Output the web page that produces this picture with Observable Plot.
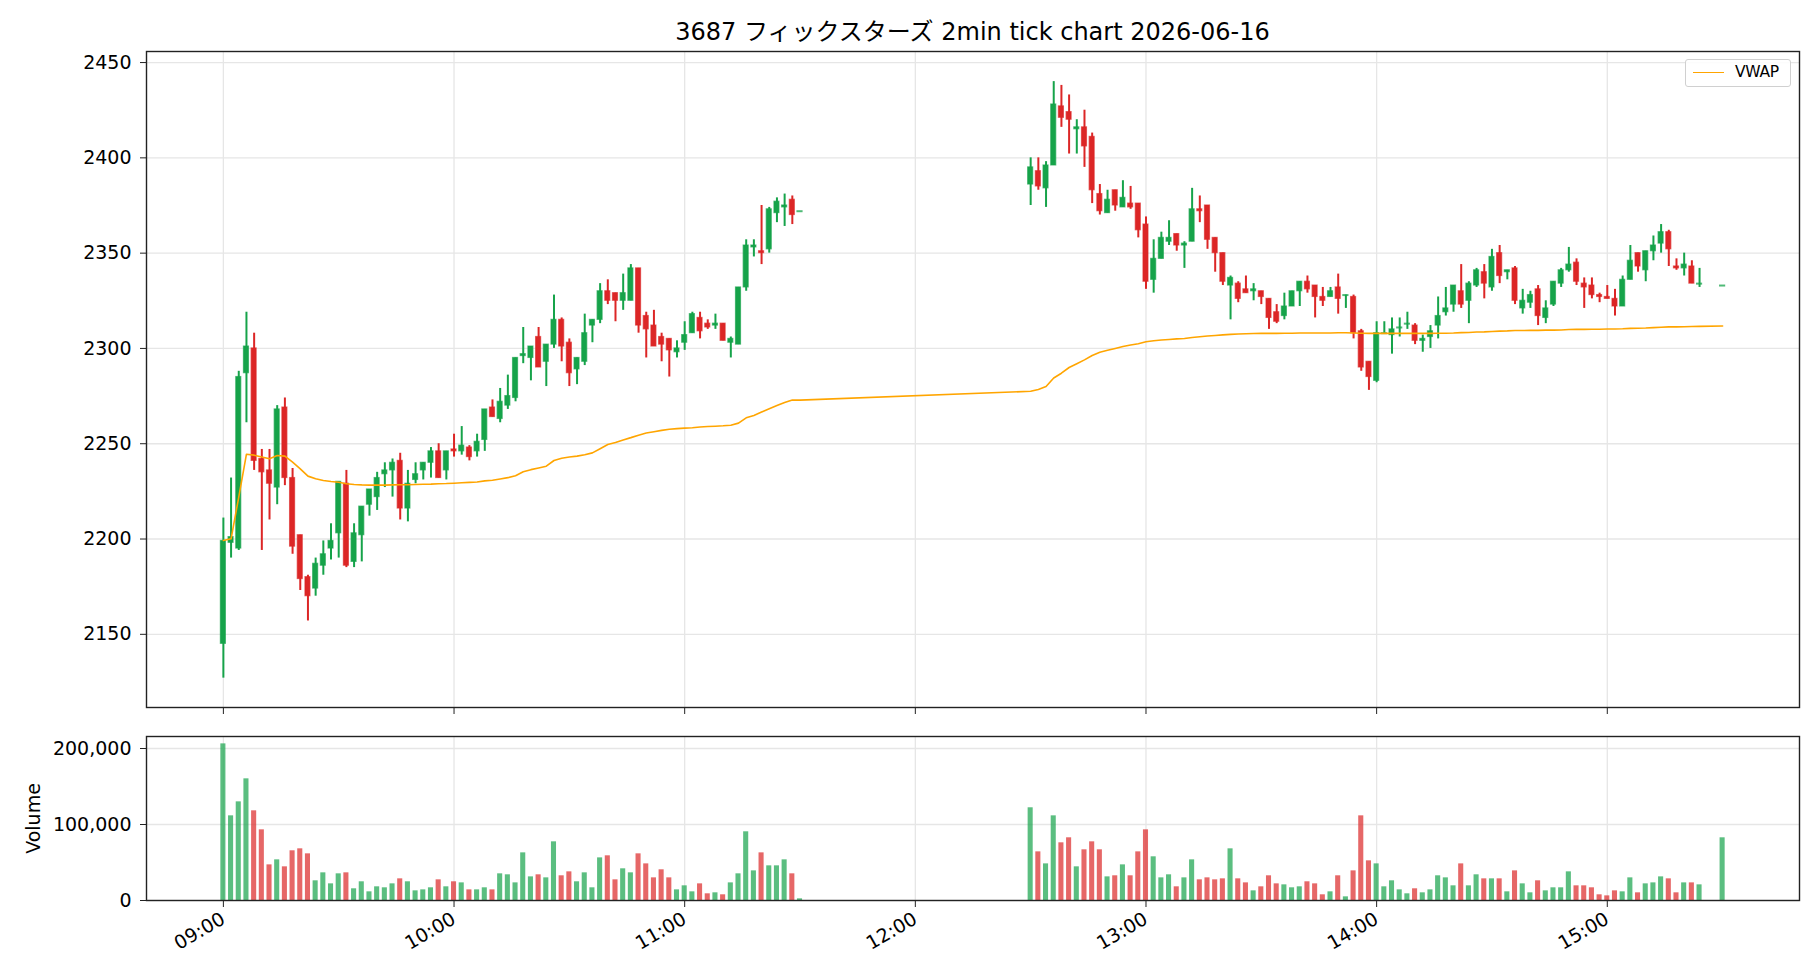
<!DOCTYPE html>
<html>
<head>
<meta charset="utf-8">
<script src="https://cdn.jsdelivr.net/npm/d3@7"></script>
<script src="https://cdn.jsdelivr.net/npm/@observablehq/plot@0.6"></script>
<style>
  html, body { margin: 0; padding: 0; background: #fff; }
  #wrap { position: relative; width: 1820px; height: 980px; background: #fff; overflow: hidden; font-family: "DejaVu Sans", "Noto Sans CJK JP", sans-serif; }
  #title { position: absolute; left: 146px; width: 1653px; top: 12px; text-align: center; font-size: 24px; color: #000; }
  #legend { position: absolute; left: 1685px; top: 59px; width: 104px; height: 26px; border: 1px solid #d0d0d0; border-radius: 3px; background: rgba(255,255,255,0.85); }
  #legend .sw { position: absolute; left: 7px; top: 12px; width: 31px; height: 0; border-top: 1.6px solid orange; }
  #legend .lb { position: absolute; left: 49px; top: 2px; font-size: 15.5px; line-height: 21px; color: #000; letter-spacing: -0.3px; }
  svg.panel { position: absolute; left: 0; }
</style>
</head>
<body>
<div id="wrap">
  <div id="title">3687 フィックスターズ 2min tick chart 2026-06-16</div>
</div>
<script>
// ---- data (2-minute bars) ----
const times = [
  "09:00","09:02","09:04","09:06","09:08","09:10","09:12","09:14","09:16","09:18",
  "09:20","09:22","09:24","09:26","09:28","09:30","09:32","09:34","09:36","09:38",
  "09:40","09:42","09:44","09:46","09:48","09:50","09:52","09:54","09:56","09:58",
  "10:00","10:02","10:04","10:06","10:08","10:10","10:12","10:14","10:16","10:18",
  "10:20","10:22","10:24","10:26","10:28","10:30","10:32","10:34","10:36","10:38",
  "10:40","10:42","10:44","10:46","10:48","10:50","10:52","10:54","10:56","10:58",
  "11:00","11:02","11:04","11:06","11:08","11:10","11:12","11:14","11:16","11:18",
  "11:20","11:22","11:24","11:26","11:28","11:30",
  "12:30","12:32","12:34","12:36","12:38","12:40","12:42","12:44","12:46","12:48",
  "12:50","12:52","12:54","12:56","12:58","13:00","13:02","13:04","13:06","13:08",
  "13:10","13:12","13:14","13:16","13:18","13:20","13:22","13:24","13:26","13:28",
  "13:30","13:32","13:34","13:36","13:38","13:40","13:42","13:44","13:46","13:48",
  "13:50","13:52","13:54","13:56","13:58","14:00","14:02","14:04","14:06","14:08",
  "14:10","14:12","14:14","14:16","14:18","14:20","14:22","14:24","14:26","14:28",
  "14:30","14:32","14:34","14:36","14:38","14:40","14:42","14:44","14:46","14:48",
  "14:50","14:52","14:54","14:56","14:58","15:00","15:02","15:04","15:06","15:08",
  "15:10","15:12","15:14","15:16","15:18","15:20","15:22","15:24","15:30"
];
const open = [
  2145,2198,2195,2287,2300,2242,2236,2227,2269,2232,
  2202,2180,2174,2186,2195,2203,2229,2188,2202,2218,
  2222,2234,2236,2241,2216,2231,2236,2240,2246,2236,
  2247,2246,2248,2246,2252,2269,2263,2270,2274,2296,
  2295,2306,2293,2302,2315,2303,2289,2293,2312,2315,
  2330,2329,2325,2325,2342,2317,2312,2306,2305,2298,
  2303,2308,2316,2313,2312,2313,2303,2302,2332,2353,
  2351,2352,2371,2374,2378,2372,
  2386,2393,2384,2396,2427,2424,2415,2416,2411,2381,
  2371,2383,2374,2376,2376,2365,2336,2347,2356,2360,
  2354,2356,2373,2375,2358,2350,2333,2334,2331,2330,
  2330,2326,2319,2317,2322,2330,2335,2333,2327,2327,
  2332,2328,2327,2309,2293,2283,2308,2307,2311,2313,
  2312,2304,2306,2312,2319,2323,2330,2325,2333,2340,
  2332,2350,2340,2342,2321,2324,2331,2316,2323,2334,
  2341,2345,2334,2333,2328,2327,2326,2322,2336,2350,
  2341,2351,2355,2361,2343,2342,2343,2334,2333
];
const high = [
  2211,2232,2288,2319,2308,2247,2247,2270,2274,2237,
  2202,2181,2190,2199,2208,2230,2236,2208,2217,2226,
  2235,2240,2242,2245,2236,2240,2240,2248,2250,2246,
  2255,2259,2249,2255,2268,2273,2279,2286,2295,2311,
  2301,2311,2302,2328,2316,2305,2295,2318,2315,2334,
  2336,2329,2339,2344,2342,2319,2320,2308,2305,2304,
  2314,2319,2319,2315,2318,2313,2306,2332,2357,2357,
  2375,2374,2379,2381,2380,2372,
  2400,2400,2398,2440,2438,2433,2420,2425,2413,2386,
  2383,2383,2388,2385,2376,2369,2357,2361,2367,2360,
  2356,2384,2380,2375,2358,2350,2338,2335,2338,2334,
  2330,2326,2323,2329,2330,2335,2338,2333,2332,2332,
  2339,2328,2328,2310,2293,2314,2314,2316,2316,2319,
  2313,2307,2312,2327,2332,2333,2344,2335,2342,2344,
  2352,2354,2341,2343,2331,2330,2333,2325,2335,2342,
  2353,2347,2337,2337,2329,2333,2331,2338,2354,2350,
  2351,2359,2365,2362,2347,2350,2346,2342,2333
];
const low = [
  2127,2190,2194,2261,2236,2194,2210,2218,2228,2192,
  2173,2157,2170,2181,2189,2190,2185,2185,2188,2212,
  2215,2227,2222,2210,2209,2229,2231,2232,2232,2231,
  2243,2244,2241,2243,2246,2264,2261,2268,2272,2292,
  2283,2290,2280,2300,2293,2280,2281,2291,2303,2313,
  2323,2314,2320,2325,2308,2295,2301,2293,2285,2295,
  2299,2308,2305,2310,2310,2304,2295,2302,2330,2348,
  2344,2350,2366,2364,2365,2372,
  2375,2383,2374,2396,2416,2402,2402,2395,2376,2370,
  2371,2372,2374,2373,2358,2331,2329,2347,2354,2351,
  2342,2356,2366,2352,2340,2333,2315,2324,2329,2325,
  2323,2310,2313,2315,2322,2322,2329,2316,2322,2327,
  2318,2321,2305,2288,2278,2282,2308,2297,2306,2310,
  2302,2298,2300,2305,2317,2319,2321,2313,2332,2326,
  2330,2334,2336,2323,2318,2321,2312,2313,2322,2332,
  2340,2333,2321,2326,2324,2326,2317,2322,2336,2340,
  2335,2346,2350,2343,2341,2338,2334,2332,2333
];
const close = [
  2199,2201,2285,2301,2241,2235,2229,2268,2232,2196,
  2179,2170,2187,2192,2199,2230,2186,2203,2217,2226,
  2232,2236,2240,2216,2229,2234,2240,2246,2232,2246,
  2246,2249,2243,2251,2268,2264,2272,2275,2295,2297,
  2301,2290,2302,2315,2301,2287,2295,2308,2315,2330,
  2325,2325,2329,2342,2312,2310,2301,2302,2299,2300,
  2307,2318,2309,2311,2313,2304,2305,2332,2354,2354,
  2350,2373,2377,2375,2370,2372,
  2395,2385,2396,2428,2421,2420,2416,2406,2383,2372,
  2378,2375,2379,2374,2362,2335,2347,2358,2358,2354,
  2355,2373,2372,2357,2350,2335,2337,2326,2329,2331,
  2327,2316,2314,2322,2330,2335,2331,2327,2325,2330,
  2326,2328,2308,2290,2285,2308,2308,2310,2311,2313,
  2304,2305,2309,2317,2321,2333,2323,2334,2341,2334,
  2348,2338,2341,2325,2325,2328,2317,2321,2335,2341,
  2344,2335,2332,2328,2327,2326,2322,2336,2346,2343,
  2351,2354,2361,2352,2342,2344,2334,2334,2333
];
const volume = [
  206100,111400,129800,160100,118000,93000,46900,53500,44300,65400,
  68000,61400,25900,36400,21900,35100,36400,15400,24600,11400,
  18000,16700,21900,28500,24600,12700,14000,16700,27200,18000,
  24600,23200,14000,14000,16700,14000,35100,33800,23200,62700,
  31100,33800,29800,77200,32500,37700,24600,36400,16700,56100,
  58800,27200,41700,36400,61400,48200,29800,40400,29800,14000,
  19300,11400,21900,8800,10100,7500,23200,35100,90400,39000,
  62700,45600,45600,53500,35100,2200,
  122000,64000,48200,111400,75900,82500,44300,66700,77200,66700,
  31100,32500,46900,32500,64000,93000,57500,29800,33800,18000,
  29800,53500,27200,29800,27200,28500,68000,28500,23200,12700,
  18000,32500,21900,20600,16700,18000,24600,21900,7500,11400,
  32500,4800,39000,111400,52200,48200,18000,25900,14000,8800,
  15400,10100,14000,32500,29800,19300,48200,19300,33800,28500,
  28500,28500,11400,39000,21900,10100,25900,12700,16700,16700,
  37700,19300,19300,16700,7500,6100,12700,11400,29800,10100,
  21900,23200,31100,28500,10100,23200,23200,20600,82500
];
const vwap = [
  2199.2,2200.1,2222.0,2244.5,2244.0,2243.0,2242.1,2243.8,2243.5,2240.3,
  2236.8,2233.0,2231.6,2230.7,2230.2,2229.8,2229.0,2228.6,2228.4,2228.3,
  2228.3,2228.3,2228.4,2228.5,2228.5,2228.6,2228.7,2228.8,2229.0,2229.1,
  2229.3,2229.5,2229.7,2229.9,2230.5,2230.8,2231.5,2232.2,2233.2,2235.3,
  2236.4,2237.3,2238.2,2241.2,2242.4,2243.0,2243.5,2244.2,2245.2,2247.4,
  2249.6,2250.6,2252.0,2253.2,2254.5,2255.6,2256.3,2257.0,2257.6,2257.9,
  2258.2,2258.4,2258.8,2259.0,2259.2,2259.4,2259.7,2260.8,2263.6,2264.8,
  2266.6,2268.3,2270.0,2271.6,2272.9,2272.9,
  2277.5,2278.5,2280.0,2284.5,2287.0,2290.0,2292.0,2294.0,2296.3,2298.0,
  2299.0,2300.0,2301.0,2301.8,2302.5,2303.5,2304.0,2304.4,2304.7,2305.0,
  2305.2,2305.7,2306.1,2306.5,2306.8,2307.1,2307.4,2307.6,2307.7,2307.8,
  2307.9,2307.9,2307.9,2308.0,2308.0,2308.1,2308.1,2308.1,2308.1,2308.1,
  2308.2,2308.2,2308.1,2308.0,2307.9,2307.9,2307.9,2307.9,2307.9,2307.9,
  2307.9,2307.9,2307.9,2308.0,2308.0,2308.1,2308.3,2308.4,2308.6,2308.7,
  2308.9,2309.1,2309.2,2309.4,2309.4,2309.5,2309.5,2309.6,2309.6,2309.7,
  2309.9,2310.0,2310.0,2310.1,2310.1,2310.2,2310.2,2310.3,2310.5,2310.6,
  2310.7,2310.9,2311.1,2311.3,2311.3,2311.4,2311.5,2311.6,2311.8
];
const xTickLabels = ["09:00","10:00","11:00","12:00","13:00","14:00","15:00"];
const priceTicks = [2150, 2200, 2250, 2300, 2350, 2400, 2450];
const volumeTicks = [0, 100000, 200000];

// ---- build table ----
const UP = "#16a34a", DOWN = "#dc2626";
const toMin = s => { const [h, m] = s.split(":").map(Number); return (h - 9) * 60 + m; };
const rows = times.map((t, k) => ({
  t: toMin(t), o: open[k], h: high[k], l: low[k], c: close[k], v: volume[k], w: vwap[k],
  col: close[k] >= open[k] ? UP : DOWN
}));
const xTicks = xTickLabels.map(toMin);
const fmtTime = m => xTickLabels[xTicks.indexOf(m)] ?? "";
const FONT = '"DejaVu Sans", "Noto Sans CJK JP", sans-serif';
const xDomain = [-20, 410];
const gridStyle = {stroke: "#e6e6e6", strokeOpacity: 1, strokeWidth: 1.3};

const main = Plot.plot({
  width: 1820, height: 720,
  marginTop: 51, marginBottom: 13, marginLeft: 146, marginRight: 21,
  style: {fontFamily: FONT, fontSize: "19px", color: "#000", background: "transparent"},
  x: {domain: xDomain},
  y: {domain: [2111.6, 2455.8]},
  color: {type: "identity"},
  marks: [
    Plot.gridX(xTicks, gridStyle),
    Plot.gridY(priceTicks, gridStyle),
    Plot.ruleX(rows, {x: "t", y1: "l", y2: "h", stroke: "col", strokeWidth: 2}),
    Plot.rect(rows, {x1: d => d.t - 0.65, x2: d => d.t + 0.65, y1: "o", y2: "c",
      fill: "col", stroke: "col", strokeOpacity: 0.65, strokeWidth: 1.2}),
    Plot.ruleY(rows, {filter: d => d.o === d.c, y: "c", x1: d => d.t - 0.8, x2: d => d.t + 0.8,
      stroke: "col", strokeOpacity: 0.75, strokeWidth: 2}),
    Plot.line(rows, {x: "t", y: "w", stroke: "orange", strokeWidth: 1.6}),
    Plot.axisX({ticks: xTicks, tickSize: 7, tickFormat: () => "", label: null, stroke: "#222"}),
    Plot.axisY({ticks: priceTicks, tickSize: 6, tickPadding: 9, label: null, tickFormat: d => String(d), stroke: "#222"}),
    Plot.frame({stroke: "#222", strokeWidth: 1.4})
  ]
});
main.classList.add("panel");
main.style.top = "0px";

const vol = Plot.plot({
  width: 1820, height: 260,
  marginTop: 16, marginBottom: 80, marginLeft: 146, marginRight: 21,
  style: {fontFamily: FONT, fontSize: "19px", color: "#000", background: "transparent"},
  x: {domain: xDomain},
  y: {domain: [0, 215800]},
  color: {type: "identity"},
  marks: [
    Plot.gridX(xTicks, gridStyle),
    Plot.gridY(volumeTicks, gridStyle),
    Plot.rectY(rows, {x1: d => d.t - 0.66, x2: d => d.t + 0.66, y: "v", fill: "col", fillOpacity: 0.7}),
    Plot.axisX({ticks: xTicks, tickSize: 7, tickPadding: 10, tickRotate: -30, tickFormat: fmtTime, label: null, stroke: "#222"}),
    Plot.axisY({ticks: volumeTicks, tickSize: 6, tickPadding: 9, tickFormat: d3.format(","),
      label: "Volume", labelAnchor: "center", labelArrow: "none", labelOffset: 120, stroke: "#222"}),
    Plot.frame({stroke: "#222", strokeWidth: 1.4})
  ]
});
vol.classList.add("panel");
vol.style.top = "720px";

const wrap = document.getElementById("wrap");
wrap.appendChild(main);
wrap.appendChild(vol);
const leg = document.createElement("div");
leg.id = "legend";
leg.innerHTML = '<div class="sw"></div><div class="lb">VWAP</div>';
wrap.appendChild(leg);
</script>
</body>
</html>
